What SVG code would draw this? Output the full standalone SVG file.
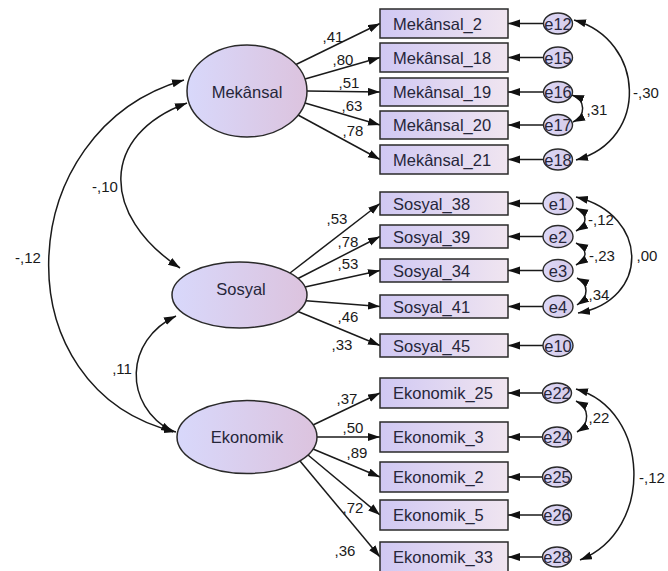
<svg xmlns="http://www.w3.org/2000/svg" width="668" height="571" viewBox="0 0 668 571">
<style>
.lat{stroke:#2a2a2a;stroke-width:1.5;fill:url(#gl)}
.obs{stroke:#2a2a2a;stroke-width:1.5;fill:url(#gr)}
.err{stroke:#2a2a2a;stroke-width:1.4;fill:url(#ge)}
.c{stroke:#1a1a1a;stroke-width:1.5;fill:none}
.a{marker-end:url(#ah)}
.b{marker-start:url(#ah);marker-end:url(#ah)}
text{font-family:"Liberation Sans",Arial,sans-serif;fill:#26263a}
.tl{font-size:16.5px;text-anchor:middle}
.to{font-size:16.5px}
.te{font-size:16.5px;text-anchor:middle}
.n{font-size:15px;text-anchor:middle;fill:#1a1a1a}
</style>
<defs>
<linearGradient id="gl" x1="0" y1="0" x2="1" y2="0"><stop offset="0" stop-color="#d8d8fb"/><stop offset="1" stop-color="#dcc3de"/></linearGradient>
<linearGradient id="gr" x1="0" y1="0" x2="1" y2="0"><stop offset="0" stop-color="#d0c8f3"/><stop offset="1" stop-color="#f0e5f0"/></linearGradient>
<linearGradient id="ge" x1="0" y1="0" x2="1" y2="0"><stop offset="0" stop-color="#dcd8f8"/><stop offset="1" stop-color="#d6cbe8"/></linearGradient>
<marker id="ah" markerUnits="userSpaceOnUse" markerWidth="13" markerHeight="9" refX="12" refY="4" orient="auto-start-reverse"><path d="M0,0 L12,4 L0,8 z" fill="#111"/></marker>
</defs>

<g id="connectors">
<line class="c a" x1="296" y1="64.5" x2="380" y2="23.5"/>
<line class="c a" x1="305" y1="79" x2="380" y2="57.5"/>
<line class="c a" x1="307" y1="91" x2="380" y2="92"/>
<line class="c a" x1="305" y1="103" x2="380" y2="125"/>
<line class="c a" x1="298" y1="115" x2="380" y2="159.5"/>
<line class="c a" x1="290" y1="273" x2="380" y2="203.5"/>
<line class="c a" x1="298" y1="278.5" x2="380" y2="236.5"/>
<line class="c a" x1="305" y1="287" x2="380" y2="270.5"/>
<line class="c a" x1="306" y1="300.7" x2="380" y2="306.5"/>
<line class="c a" x1="298" y1="311.5" x2="380" y2="345.5"/>
<line class="c a" x1="313" y1="425" x2="380" y2="393"/>
<line class="c a" x1="317" y1="437" x2="380" y2="437"/>
<line class="c a" x1="313" y1="449" x2="380" y2="477"/>
<line class="c a" x1="308" y1="455" x2="380" y2="515"/>
<line class="c a" x1="300" y1="461" x2="380" y2="557"/>
<line class="c a" x1="543" y1="23.5" x2="508" y2="23.5"/>
<line class="c a" x1="543" y1="57.5" x2="508" y2="57.5"/>
<line class="c a" x1="543" y1="92" x2="508" y2="92"/>
<line class="c a" x1="543" y1="125" x2="508" y2="125"/>
<line class="c a" x1="543" y1="159.5" x2="508" y2="159.5"/>
<line class="c a" x1="543" y1="203.5" x2="508" y2="203.5"/>
<line class="c a" x1="543" y1="236.5" x2="508" y2="236.5"/>
<line class="c a" x1="543" y1="270.5" x2="508" y2="270.5"/>
<line class="c a" x1="543" y1="306.5" x2="508" y2="306.5"/>
<line class="c a" x1="543" y1="345.5" x2="508" y2="345.5"/>
<line class="c a" x1="543" y1="393" x2="508" y2="393"/>
<line class="c a" x1="543" y1="437" x2="508" y2="437"/>
<line class="c a" x1="543" y1="477" x2="508" y2="477"/>
<line class="c a" x1="543" y1="515" x2="508" y2="515"/>
<line class="c a" x1="543" y1="557" x2="508" y2="557"/>
<path class="c b" d="M187,103 C100,135 100,215 180,268"/>
<path class="c b" d="M184,80 C10,130 0,390 176,432"/>
<path class="c b" d="M176,316 C125,340 122,405 173,432"/>
<path class="c b" d="M574,20 C645,40 650,140 576,160"/>
<path class="c b" d="M572,95 C586,100 586,116 573,122"/>
<path class="c b" d="M576,208 C588,214 588,224 576,231"/>
<path class="c b" d="M576,243 C588,249 588,258 576,265"/>
<path class="c b" d="M577,278 C589,284 589,297 577,305"/>
<path class="c b" d="M576,197 C650,215 650,300 578,313"/>
<path class="c b" d="M576,401 C590,408 590,424 577,432"/>
<path class="c b" d="M576,389 C650,410 655,530 580,560"/>
</g>

<g id="labels">
<text class="n" x="333" y="42">,41</text>
<text class="n" x="343" y="65">,80</text>
<text class="n" x="349" y="88">,51</text>
<text class="n" x="352" y="111">,63</text>
<text class="n" x="353" y="136">,78</text>
<text class="n" x="337" y="224">,53</text>
<text class="n" x="348" y="247">,78</text>
<text class="n" x="348" y="269">,53</text>
<text class="n" x="348" y="322">,46</text>
<text class="n" x="342" y="350">,33</text>
<text class="n" x="347" y="404">,37</text>
<text class="n" x="353" y="433">,50</text>
<text class="n" x="357" y="458">,89</text>
<text class="n" x="353" y="513">,72</text>
<text class="n" x="345" y="556">,36</text>
<text class="n" x="105" y="192">-,10</text>
<text class="n" x="28" y="263">-,12</text>
<text class="n" x="122" y="374">,11</text>
<text class="n" x="646" y="98">-,30</text>
<text class="n" x="597" y="115">,31</text>
<text class="n" x="601" y="225">-,12</text>
<text class="n" x="602" y="261">-,23</text>
<text class="n" x="599" y="300">,34</text>
<text class="n" x="647" y="261">,00</text>
<text class="n" x="599" y="423">,22</text>
<text class="n" x="652" y="483">-,12</text>
</g>

<g id="Mekansal"><ellipse class="lat" cx="247" cy="91" rx="60" ry="46"/><text class="tl" x="247" y="98">Mekânsal</text></g>
<g id="Sosyal"><ellipse class="lat" cx="239.5" cy="295" rx="67.5" ry="33"/><text class="tl" x="241" y="295">Sosyal</text></g>
<g id="Ekonomik"><ellipse class="lat" cx="247" cy="437" rx="70" ry="36.5"/><text class="tl" x="247" y="443">Ekonomik</text></g>

<g id="Mekansal_2"><rect class="obs" x="380" y="9" width="128" height="29"/><text class="to" x="393" y="29.5">Mekânsal_2</text></g>
<g id="Mekansal_18"><rect class="obs" x="380" y="43" width="128" height="29"/><text class="to" x="393" y="63.5">Mekânsal_18</text></g>
<g id="Mekansal_19"><rect class="obs" x="380" y="78" width="128" height="28"/><text class="to" x="393" y="98">Mekânsal_19</text></g>
<g id="Mekansal_20"><rect class="obs" x="380" y="111" width="128" height="28"/><text class="to" x="393" y="131">Mekânsal_20</text></g>
<g id="Mekansal_21"><rect class="obs" x="380" y="145" width="128" height="29"/><text class="to" x="393" y="165.5">Mekânsal_21</text></g>

<g id="Sosyal_38"><rect class="obs" x="380" y="192" width="128" height="23"/><text class="to" x="393" y="209.5">Sosyal_38</text></g>
<g id="Sosyal_39"><rect class="obs" x="380" y="225" width="128" height="23"/><text class="to" x="393" y="242.5">Sosyal_39</text></g>
<g id="Sosyal_34"><rect class="obs" x="380" y="259" width="128" height="23"/><text class="to" x="393" y="276.5">Sosyal_34</text></g>
<g id="Sosyal_41"><rect class="obs" x="380" y="295" width="128" height="23"/><text class="to" x="393" y="312.5">Sosyal_41</text></g>
<g id="Sosyal_45"><rect class="obs" x="380" y="334" width="128" height="23"/><text class="to" x="393" y="351.5">Sosyal_45</text></g>

<g id="Ekonomik_25"><rect class="obs" x="380" y="378" width="128" height="30"/><text class="to" x="393" y="399">Ekonomik_25</text></g>
<g id="Ekonomik_3"><rect class="obs" x="380" y="422" width="128" height="30"/><text class="to" x="393" y="443">Ekonomik_3</text></g>
<g id="Ekonomik_2"><rect class="obs" x="380" y="462" width="128" height="30"/><text class="to" x="393" y="483">Ekonomik_2</text></g>
<g id="Ekonomik_5"><rect class="obs" x="380" y="500" width="128" height="30"/><text class="to" x="393" y="521">Ekonomik_5</text></g>
<g id="Ekonomik_33"><rect class="obs" x="380" y="542" width="128" height="30"/><text class="to" x="393" y="563">Ekonomik_33</text></g>

<g id="e12"><ellipse class="err" cx="558" cy="23.5" rx="14.5" ry="10.5"/><text class="te" x="558" y="29.5">e12</text></g>
<g id="e15"><ellipse class="err" cx="558" cy="57.5" rx="14.5" ry="10.5"/><text class="te" x="558" y="63.5">e15</text></g>
<g id="e16"><ellipse class="err" cx="558" cy="92" rx="14.5" ry="10.5"/><text class="te" x="558" y="98">e16</text></g>
<g id="e17"><ellipse class="err" cx="558" cy="125" rx="14.5" ry="10.5"/><text class="te" x="558" y="131">e17</text></g>
<g id="e18"><ellipse class="err" cx="558" cy="159.5" rx="14.5" ry="10.5"/><text class="te" x="558" y="165.5">e18</text></g>

<g id="e1"><ellipse class="err" cx="558" cy="203.5" rx="15" ry="11"/><text class="te" x="558" y="209.5">e1</text></g>
<g id="e2"><ellipse class="err" cx="558" cy="236.5" rx="15" ry="11"/><text class="te" x="558" y="242.5">e2</text></g>
<g id="e3"><ellipse class="err" cx="558" cy="270.5" rx="15" ry="11"/><text class="te" x="558" y="276.5">e3</text></g>
<g id="e4"><ellipse class="err" cx="558" cy="306.5" rx="15" ry="11"/><text class="te" x="558" y="312.5">e4</text></g>
<g id="e10"><ellipse class="err" cx="558" cy="345.5" rx="15" ry="11"/><text class="te" x="558" y="351.5">e10</text></g>

<g id="e22"><ellipse class="err" cx="557" cy="393" rx="14.5" ry="10"/><text class="te" x="557" y="399">e22</text></g>
<g id="e24"><ellipse class="err" cx="557" cy="437" rx="14.5" ry="10"/><text class="te" x="557" y="443">e24</text></g>
<g id="e25"><ellipse class="err" cx="557" cy="477" rx="14.5" ry="10"/><text class="te" x="557" y="483">e25</text></g>
<g id="e26"><ellipse class="err" cx="557" cy="515" rx="14.5" ry="10"/><text class="te" x="557" y="521">e26</text></g>
<g id="e28"><ellipse class="err" cx="557" cy="557" rx="14.5" ry="10"/><text class="te" x="557" y="563">e28</text></g>
</svg>
